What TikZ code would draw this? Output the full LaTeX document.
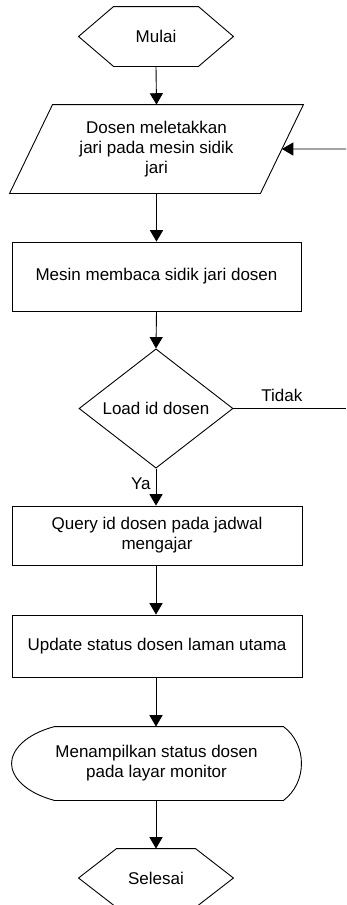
\documentclass[tikz,border=0pt]{standalone}
\usepackage{fontspec}
\setmainfont{Liberation Sans}
\usetikzlibrary{arrows.meta,shapes.geometric,calc}
\tikzset{
  txt/.style={font=\fontsize{17}{20}\selectfont, align=center, inner sep=0pt},
  boxnode/.style={txt, draw, rectangle, minimum width=289pt},
  arr/.style={-{Triangle[scale=2.2]}},
}
\begin{document}
\begin{tikzpicture}[x=1pt,y=1pt,line width=0.9pt]
\useasboundingbox (0,0) rectangle (346,-905);

% Mulai
\node[txt, minimum width=154pt, minimum height=59pt] (mulai) at (156,-36.5) {Mulai};
\draw (mulai.west) -- ([xshift=35pt]mulai.north west) -- ([xshift=-35pt]mulai.north east)
  -- (mulai.east) -- ([xshift=-35pt]mulai.south east) -- ([xshift=35pt]mulai.south west) -- cycle;

% Input parallelogram
\node[txt, minimum width=293pt, minimum height=88pt] (input) at (156.5,-149)
  {Dosen meletakkan\\jari pada mesin sidik\\jari};
\draw ([xshift=43pt]input.north west) -- (input.north east) -- ([xshift=-43pt]input.south east)
  -- (input.south west) -- cycle;
\coordinate (inR) at ($(input.north east)!0.5!([xshift=-43pt]input.south east)$);
\coordinate (backin) at (346,-149);

% Mesin
\node[boxnode, minimum height=69pt] (mesin) at (156.5,-276.5) {Mesin membaca sidik jari dosen};

% Decision
\node[txt, draw, diamond, minimum width=154pt, minimum height=97pt] (load) at (156,-408.5) {Load id dosen};
\coordinate (tidakend) at (346,-408.5);

% Query
\node[boxnode, minimum width=290pt, minimum height=59pt] (query) at (157,-535.5)
  {Query id dosen pada jadwal\\mengajar};

% Update
\node[boxnode, minimum width=290pt, minimum height=62pt] (update) at (157,-646)
  {Update status dosen laman utama};

% Display
\node[txt, minimum width=289pt, minimum height=73pt] (disp) at (156.5,-763.5)
  {Menampilkan status dosen\\pada layar monitor};
\draw ([xshift=43pt]disp.north west) -- ([xshift=-18pt]disp.north east)
  .. controls ([xshift=6pt,yshift=-18pt]disp.north east) and ([xshift=6pt,yshift=18pt]disp.south east) ..
  ([xshift=-18pt]disp.south east) -- ([xshift=43pt]disp.south west)
  .. controls ([xshift=13pt,yshift=8pt]disp.south west) and ([yshift=-13pt]disp.west) .. (disp.west)
  .. controls ([yshift=13pt]disp.west) and ([xshift=13pt,yshift=-8pt]disp.north west) ..
  ([xshift=43pt]disp.north west);

% Selesai
\begin{scope}
\clip (0,0) rectangle (346,-905);
\node[txt, minimum width=154pt, minimum height=58pt] (selesai) at (156,-878) {Selesai};
\draw (selesai.west) -- ([xshift=38pt]selesai.north west) -- ([xshift=-38pt]selesai.north east)
  -- (selesai.east) -- ([xshift=-38pt]selesai.south east) -- ([xshift=38pt]selesai.south west) -- cycle;
\end{scope}

% Connectors
\draw[arr] (mulai.south) -- (input.north);
\draw[arr] (input.south) -- (mesin.north);
\draw[arr] (mesin.south) -- (load.north);
\draw[arr] (load.south) -- node[txt, left=5pt, pos=0.4] {Ya} (load.south |- query.north);
\draw (load.east) -- node[txt, above=6pt, pos=0.43] {Tidak} (tidakend);
\draw[arr] (backin) -- (inR);
\draw[arr] (query.south -| load.south) -- (update.north -| load.south);
\draw[arr] (update.south -| load.south) -- (disp.north -| load.south);
\draw[arr] (disp.south -| load.south) -- (selesai.north);
\end{tikzpicture}
\end{document}
